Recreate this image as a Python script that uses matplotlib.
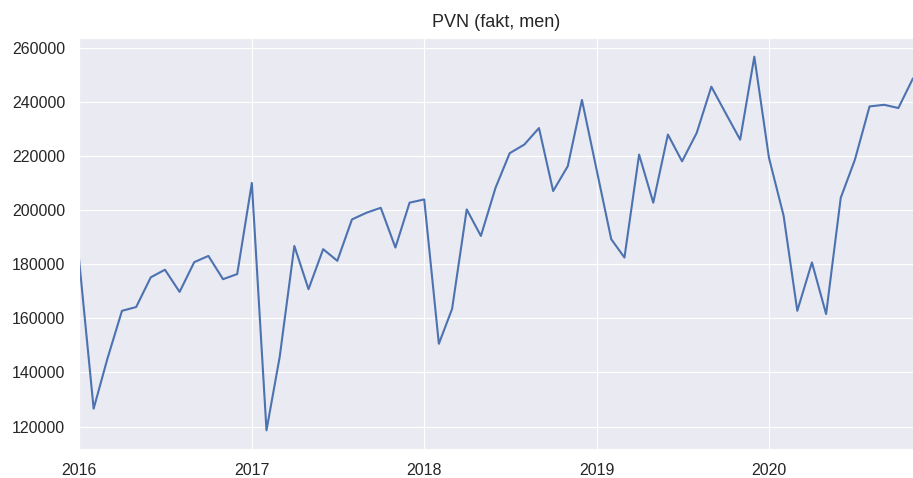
import numpy as np
import pandas as pd
import matplotlib
matplotlib.use("Agg")
import matplotlib.pyplot as plt
import matplotlib.dates as mdates
import seaborn as sns

# ----------------------------------------------------------------------
# DATA: monthly values, Jan 2016 .. Nov 2020
# ----------------------------------------------------------------------
start_month = "2016-01-01"
values_2016 = [182000, 126600, 145000, 162800, 164200, 175200,
               178000, 169800, 180800, 183100, 174500, 176400]
values_2017 = [210100, 118600, 145800, 186800, 170800, 185600,
               181300, 196600, 199100, 200900, 186200, 202800]
values_2018 = [204000, 150600, 163500, 200300, 190500, 208300,
               221100, 224300, 230400, 207100, 216300, 240800]
values_2019 = [215000, 189300, 182500, 220600, 202800, 228000,
               218100, 228600, 245700, 236000, 226100, 256800]
values_2020 = [219400, 198000, 162800, 180700, 161600, 204600,
               218700, 238400, 239000, 237800, 248800]

values = values_2016 + values_2017 + values_2018 + values_2019 + values_2020
dates = pd.date_range(start_month, periods=len(values), freq="MS")
series = pd.Series(values, index=dates)

title_text = "PVN (fakt, men)"

# ----------------------------------------------------------------------
# STYLE
# ----------------------------------------------------------------------
sns.set_style("darkgrid")
plt.rcParams["font.family"] = ["Liberation Sans", "DejaVu Sans"]

LINE_COL = "#4C72B0"

# ----------------------------------------------------------------------
# PLOT
# ----------------------------------------------------------------------
fig = plt.figure(figsize=(9.13, 4.78), dpi=100)
ax = fig.add_axes([79 / 913, 1 - 449 / 478, 1 - 79 / 913, (449 - 38) / 478])

ax.plot(series.index, series.values, color=LINE_COL, lw=1.5)

ax.set_xlim(series.index[0], series.index[-1])
ax.xaxis.set_major_locator(mdates.YearLocator())
ax.xaxis.set_major_formatter(mdates.DateFormatter("%Y"))
ax.set_yticks(np.arange(120000, 260001, 20000))

ax.tick_params(axis="both", labelsize=11.5, colors="#262626", pad=10, length=0)
ax.set_title(title_text, fontsize=13, color="#262626", pad=8)

fig.savefig("out.png", dpi=100)
